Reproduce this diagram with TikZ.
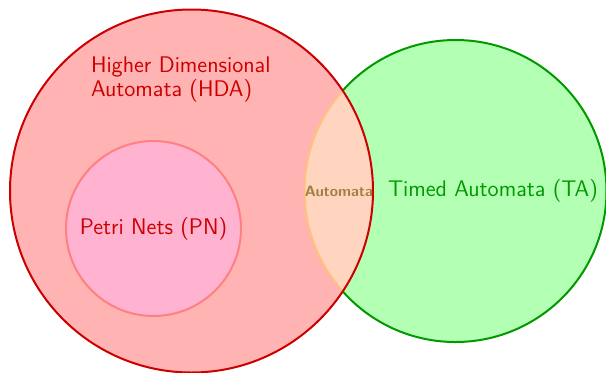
\documentclass[tikz,border=0pt]{standalone}
\usepackage{tikz}
\renewcommand{\familydefault}{\sfdefault}

\definecolor{hdaline}{RGB}{204,0,0}
\definecolor{hdafill}{RGB}{255,179,179}
\definecolor{taline}{RGB}{0,153,0}
\definecolor{tafill}{RGB}{179,255,179}
\definecolor{pnline}{RGB}{255,128,128}
\definecolor{pnfill}{RGB}{255,179,209}
\definecolor{mixline}{RGB}{255,192,128}
\definecolor{mixfill}{RGB}{255,213,192}
\definecolor{mixtext}{RGB}{160,128,64}

\begin{document}
\begin{tikzpicture}[x=0.5pt,y=-0.5pt,line width=1pt,font=\fontsize{11.3}{12}\selectfont]
  \useasboundingbox (0,0) rectangle (606,372);
  \coordinate (hda) at (191.5,191);
  \coordinate (ta) at (455.5,191);
  \coordinate (pn) at (153.5,228.5);

  % fills
  \fill[hdafill] (hda) circle (181.5);
  \fill[tafill] (ta) circle (151);
  \begin{scope}
    \clip (hda) circle (181.5);
    \fill[mixfill] (ta) circle (151);
  \end{scope}

  % borders
  \begin{scope}[even odd rule]
    \clip (-10,-10) rectangle (620,390) (hda) circle (181.5);
    \draw[taline] (ta) circle (151);
  \end{scope}
  \begin{scope}
    \clip (hda) circle (181.5);
    \draw[mixline] (ta) circle (151);
  \end{scope}
  \draw[hdaline] (hda) circle (181.5);
  \draw[pnline,fill=pnfill] (pn) circle (87.5);

  % labels
  \node[hdaline,anchor=north west,align=left,inner sep=0pt] (hdalabel) at (90,56) {Higher Dimensional\\Automata (HDA)};
  \node[taline,anchor=west,inner sep=0pt] (talabel) at (387,191) {Timed Automata (TA)};
  \node[hdaline] (pnlabel) at (pn) {Petri Nets (PN)};
  \node[mixtext,font=\fontsize{7.5}{8}\selectfont\bfseries] (mixlabel) at (339,191) {Automata};
\end{tikzpicture}
\end{document}
